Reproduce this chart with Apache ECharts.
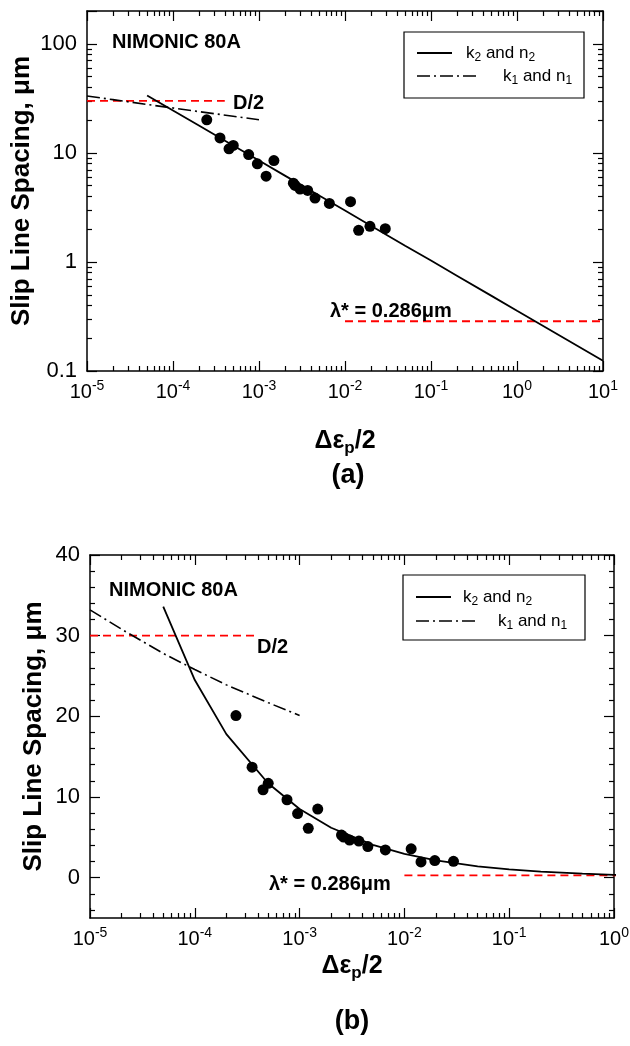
<!DOCTYPE html>
<html>
<head>
<meta charset="utf-8">
<script src="https://cdn.jsdelivr.net/npm/echarts@6/dist/echarts.min.js"></script>
<style>
html, body { margin: 0; padding: 0; background: #fff; }
#chart { width: 630px; height: 1046px; }
</style>
</head>
<body>
<div id="chart"></div>
<script>
// Slip line spacing against plastic strain amplitude, NIMONIC 80A
const strainAmp   = [2.47e-4, 3.52e-4, 4.48e-4, 5.02e-4, 7.58e-4, 9.57e-4, 1.21e-3, 1.49e-3, 2.51e-3,
                     2.63e-3, 3.0e-3, 3.68e-3, 4.48e-3, 6.58e-3, 1.16e-2, 1.44e-2, 1.95e-2, 2.94e-2];
const slipSpacing = [20.1, 13.7, 10.9, 11.7, 9.66, 7.94, 6.12, 8.5, 5.28,
                     5.03, 4.66, 4.53, 3.85, 3.44, 3.57, 1.95, 2.12, 2.02];

// power-law fit with k2, n2
const fit2X = [5e-5, 1e-4, 2e-4, 5e-4, 1e-3, 2e-3, 5e-3, 1e-2, 2e-2, 5e-2, 0.1, 0.2, 0.5, 1, 10];
const fit2Y = [33.6, 24.5, 17.8, 11.7, 8.51, 6.19, 4.06, 2.96, 2.15, 1.41, 1.03, 0.748, 0.491, 0.357, 0.124];
// power-law fit with k1, n1
const fit1X = [1e-5, 2e-5, 5e-5, 1e-4, 2e-4, 5e-4, 1e-3];
const fit1Y = [33.2, 30.8, 27.8, 25.8, 23.9, 21.7, 20.1];

// reference levels: half grain size and lambda*
const halfGrainX = [1e-5, 4e-4];
const halfGrainY = 30;
const lambdaX = [1e-2, 10];
const lambdaY = 0.286;

// axis ranges and tick values
const xDecadesTop = [-5, -4, -3, -2, -1, 0, 1];
const xDecadesBottom = [-5, -4, -3, -2, -1, 0];
const yDecadesTop = [-1, 0, 1, 2];
const yTopMax = 200;
const yBottomMajor = [0, 10, 20, 30, 40];
const yBottomMinor = [-4, -2, 2, 4, 6, 8, 12, 14, 16, 18, 22, 24, 26, 28, 32, 34, 36, 38];

const FONT = '"Liberation Sans", Arial, sans-serif';
const BLACK = '#000';
const RED = '#ff0000';
const DASH_DOT = [13, 4, 2, 4];

const pairs = (xs, ys) => xs.map((x, i) => [x, Array.isArray(ys) ? ys[i] : ys]);

// minor tick positions (in decades) for a log axis
function logMinor(decades, maxExp) {
  const out = [];
  decades.forEach(d => {
    for (let m = 2; m <= 9; m++) {
      const e = d + Math.log10(m);
      if (e < maxExp) out.push(e);
    }
  });
  return out;
}

const supRich = {
  b: { fontSize: 20, fontFamily: FONT, color: BLACK, lineHeight: 27 },
  s: { fontSize: 14, fontFamily: FONT, color: BLACK, lineHeight: 14, verticalAlign: 'top' }
};
const expLabel = v => '{b|10}{s|' + Math.round(Math.log10(v)) + '}';

const lineStyleAxis = { color: BLACK, width: 1.5 };
const tickStyle = { color: BLACK, width: 1.2 };

function majorLogX(grid, pos, min, max, withLabel, nameGap) {
  return {
    type: 'log', gridIndex: grid, position: pos, min: min, max: max, logBase: 10,
    axisLine: { show: true, onZero: false, lineStyle: lineStyleAxis },
    axisTick: { show: true, inside: true, length: 10, lineStyle: tickStyle },
    axisLabel: withLabel ? { show: true, margin: 8, formatter: expLabel, rich: supRich } : { show: false },
    splitLine: { show: false },
    name: withLabel ? '{b|Δε}{s|p}{b|/2}' : '',
    nameLocation: 'middle', nameGap: nameGap, nameMoveOverlap: false,
    nameTextStyle: {
      rich: {
        b: { fontSize: 25, fontWeight: 'bold', fontFamily: FONT, color: BLACK, lineHeight: 32 },
        s: { fontSize: 17, fontWeight: 'bold', fontFamily: FONT, color: BLACK, lineHeight: 17, verticalAlign: 'bottom' }
      }
    }
  };
}
function minorAxis(grid, pos, min, max, values) {
  return {
    type: 'value', gridIndex: grid, position: pos, min: min, max: max,
    axisLine: { show: false, onZero: false },
    axisTick: { show: true, inside: true, length: 5, lineStyle: tickStyle, customValues: values },
    axisLabel: { show: false, customValues: values },
    splitLine: { show: false }
  };
}
function yName(gap) {
  return {
    name: 'Slip Line Spacing, μm', nameLocation: 'middle', nameGap: gap, nameMoveOverlap: false,
    nameTextStyle: { fontSize: 26, fontWeight: 'bold', fontFamily: FONT, color: BLACK }
  };
}

const xAxes = [
  // upper panel
  majorLogX(0, 'bottom', 1e-5, 10, true, 54),
  majorLogX(0, 'top', 1e-5, 10, false, 0),
  minorAxis(0, 'bottom', -5, 1, logMinor(xDecadesTop, 1)),
  minorAxis(0, 'top', -5, 1, logMinor(xDecadesTop, 1)),
  // lower panel
  majorLogX(1, 'bottom', 1e-5, 1, true, 32),
  majorLogX(1, 'top', 1e-5, 1, false, 0),
  minorAxis(1, 'bottom', -5, 0, logMinor(xDecadesBottom, 0)),
  minorAxis(1, 'top', -5, 0, logMinor(xDecadesBottom, 0))
];

const yTopLabel = v => {
  const e = Math.log10(v);
  const r = Math.round(e);
  if (Math.abs(e - r) > 1e-6 || yDecadesTop.indexOf(r) < 0) return '';
  return r < 0 ? String(+Math.pow(10, r).toFixed(-r)) : String(Math.pow(10, r));
};

const yAxes = [
  // upper panel
  Object.assign({
    type: 'log', gridIndex: 0, position: 'left', min: 0.1, max: yTopMax, logBase: 10,
    axisLine: { show: true, onZero: false, lineStyle: lineStyleAxis },
    axisTick: { show: true, inside: true, length: 10, lineStyle: tickStyle },
    axisLabel: { show: true, margin: 10, formatter: yTopLabel, fontSize: 22, fontFamily: FONT, color: BLACK },
    splitLine: { show: false }
  }, yName(52)),
  {
    type: 'log', gridIndex: 0, position: 'right', min: 0.1, max: yTopMax, logBase: 10,
    axisLine: { show: true, onZero: false, lineStyle: lineStyleAxis },
    axisTick: { show: true, inside: true, length: 10, lineStyle: tickStyle },
    axisLabel: { show: false }, splitLine: { show: false }
  },
  minorAxis(0, 'left', -1, Math.log10(yTopMax), logMinor(yDecadesTop, Math.log10(yTopMax))),
  minorAxis(0, 'right', -1, Math.log10(yTopMax), logMinor(yDecadesTop, Math.log10(yTopMax))),
  // lower panel
  Object.assign({
    type: 'value', gridIndex: 1, position: 'left', min: -5, max: 40,
    axisLine: { show: true, onZero: false, lineStyle: lineStyleAxis },
    axisTick: { show: true, inside: true, length: 10, lineStyle: tickStyle, customValues: yBottomMajor },
    axisLabel: { show: true, margin: 10, fontSize: 22, fontFamily: FONT, color: BLACK, customValues: yBottomMajor },
    splitLine: { show: false }
  }, yName(43)),
  {
    type: 'value', gridIndex: 1, position: 'right', min: -5, max: 40,
    axisLine: { show: true, onZero: false, lineStyle: lineStyleAxis },
    axisTick: { show: true, inside: true, length: 10, lineStyle: tickStyle, customValues: yBottomMajor },
    axisLabel: { show: false, customValues: yBottomMajor }, splitLine: { show: false }
  },
  minorAxis(1, 'left', -5, 40, yBottomMinor),
  minorAxis(1, 'right', -5, 40, yBottomMinor)
];

function panelSeries(xi, yi) {
  return [
    {
      type: 'line', xAxisIndex: xi, yAxisIndex: yi, data: pairs(halfGrainX, halfGrainY),
      symbol: 'none', lineStyle: { color: RED, width: 1.8, type: [8, 5] }, z: 2, silent: true
    },
    {
      type: 'line', xAxisIndex: xi, yAxisIndex: yi, data: pairs(lambdaX, lambdaY),
      symbol: 'none', lineStyle: { color: RED, width: 1.8, type: [8, 5] }, z: 2, silent: true
    },
    {
      type: 'line', xAxisIndex: xi, yAxisIndex: yi, data: pairs(fit1X, fit1Y),
      symbol: 'none', lineStyle: { color: BLACK, width: 1.6, type: DASH_DOT }, z: 3, silent: true
    },
    {
      type: 'line', xAxisIndex: xi, yAxisIndex: yi, data: pairs(fit2X, fit2Y),
      symbol: 'none', lineStyle: { color: BLACK, width: 1.8 }, z: 3, silent: true, clip: true
    },
    {
      type: 'scatter', xAxisIndex: xi, yAxisIndex: yi, data: pairs(strainAmp, slipSpacing),
      symbol: 'circle', symbolSize: 11, itemStyle: { color: BLACK, opacity: 1 }, z: 4, silent: true
    }
  ];
}

const legRich = {
  a: { fontSize: 17, fontFamily: FONT, color: BLACK, lineHeight: 22 },
  s: { fontSize: 12, fontFamily: FONT, color: BLACK, lineHeight: 12, verticalAlign: 'bottom' }
};
function legendBox(x, y, w, h, y1, y2, t1x, t2x) {
  return [
    { type: 'rect', shape: { x: x, y: y, width: w, height: h }, style: { fill: '#fff', stroke: BLACK, lineWidth: 1.2 }, z: 10 },
    { type: 'line', shape: { x1: x + 13, y1: y1, x2: x + 48, y2: y1 }, style: { stroke: BLACK, lineWidth: 1.8 }, z: 11 },
    { type: 'text', x: t1x, y: y1, style: { text: '{a|k}{s|2}{a| and n}{s|2}', rich: legRich, verticalAlign: 'middle', align: 'left' }, z: 11 },
    { type: 'line', shape: { x1: x + 13, y1: y2, x2: x + 76, y2: y2 }, style: { stroke: BLACK, lineWidth: 1.6, lineDash: DASH_DOT }, z: 11 },
    { type: 'text', x: t2x, y: y2, style: { text: '{a|k}{s|1}{a| and n}{s|1}', rich: legRich, verticalAlign: 'middle', align: 'left' }, z: 11 }
  ];
}
function note(text, x, y, size) {
  return { type: 'text', x: x, y: y, z: 12,
    style: { text: text, fontSize: size, fontWeight: 'bold', fontFamily: FONT, fill: BLACK, verticalAlign: 'middle', align: 'left' } };
}
function caption(text, x, y) {
  return { type: 'text', x: x, y: y, z: 12,
    style: { text: text, fontSize: 27, fontWeight: 'bold', fontFamily: FONT, fill: BLACK, verticalAlign: 'middle', align: 'center' } };
}

const option = {
  animation: false,
  backgroundColor: '#fff',
  grid: [
    { left: 87, top: 11, width: 516, height: 360, containLabel: false, outerBoundsMode: 'none' },
    { left: 90, top: 555, width: 524, height: 363, containLabel: false, outerBoundsMode: 'none' }
  ],
  xAxis: xAxes,
  yAxis: yAxes,
  series: panelSeries(0, 0).concat(panelSeries(4, 4)),
  graphic: [].concat(
    legendBox(404, 32, 180, 66, 53, 76, 466, 503),
    legendBox(403, 575, 182, 65, 597, 621, 463, 498),
    [
      note('NIMONIC 80A', 112, 42, 20),
      note('D/2', 233, 103, 20),
      note('λ* = 0.286μm', 330, 311, 20),
      note('NIMONIC 80A', 109, 590, 20),
      note('D/2', 257, 647, 20),
      note('λ* = 0.286μm', 269, 884, 20),
      caption('(a)', 348, 476),
      caption('(b)', 352, 1022)
    ]
  )
};

const chart = echarts.init(document.getElementById('chart'), null, { renderer: 'canvas' });
chart.setOption(option);
</script>
</body>
</html>
